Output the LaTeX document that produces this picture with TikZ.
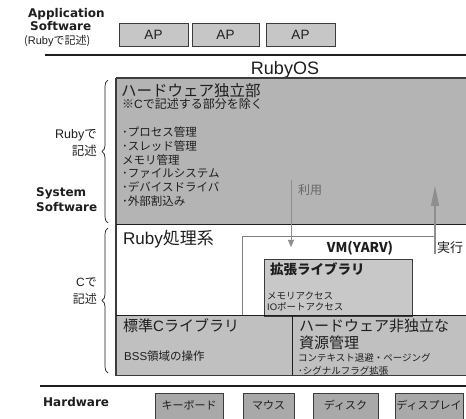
\documentclass[tikz,border=0pt]{standalone}
\usepackage{fontspec}
\setmainfont{Noto Sans CJK JP}
\newfontfamily\lib{Liberation Sans}
\newfontfamily\dvs{DejaVu Sans}
\usetikzlibrary{decorations.pathreplacing,arrows.meta}
\definecolor{gUp}{HTML}{B4B4B4}
\definecolor{gLow}{HTML}{C0C0C0}
\definecolor{gAP}{HTML}{C6C6C6}
\definecolor{gExt}{HTML}{C8C8C8}
\definecolor{gHW}{HTML}{A9A9A9}
\definecolor{ink}{HTML}{1E1E1E}
\definecolor{edge}{HTML}{3C3C3C}
\definecolor{arr}{HTML}{8E8E8E}
\tikzset{
  txt/.style={inner sep=0pt, anchor=base west, text=ink},
  txtr/.style={inner sep=0pt, anchor=base east, text=ink},
  lbl/.style={inner sep=0pt, anchor=base west, text=ink, font=\dvs\bfseries\fontsize{12}{14}\selectfont},
  apbox/.style={draw=edge, line width=0.8pt, fill=gAP, minimum height=23pt, inner sep=0pt, font=\lib\fontsize{13.5}{15}\selectfont, text=ink},
  hwbox/.style={draw=edge, line width=0.8pt, fill=gHW, anchor=north west, inner sep=0pt},
  hwtxt/.style={inner sep=0pt, anchor=base, text=ink, font=\fontsize{11}{13}\selectfont},
  head/.style={txt, font=\fontsize{15}{17}\selectfont},
  small/.style={txt, font=\fontsize{9.5}{11}\selectfont},
  item/.style={txt, font=\fontsize{11.5}{13}\selectfont},
  bracestyle/.style={decorate, decoration={brace, amplitude=6pt}, draw=ink, line width=0.7pt},
}
\begin{document}
\begin{tikzpicture}[x=1pt, y=-1pt]
\useasboundingbox (0,0) rectangle (466,419);
\clip (0,0) rectangle (466,419);
\fill[white] (0,0) rectangle (466,419);

% application layer
\node[lbl] (appA) at (28,18) {Application};
\node[lbl] (appS) at (30,31) {Software};
\node[txt, font=\fontsize{11}{12}\selectfont] (appR) at (24,45) {({\lib Ruby}で記述)};
\node[apbox, minimum width=69pt] (ap1) at (153.5,34.5) {AP};
\node[apbox, minimum width=67pt] (ap2) at (225.5,34.5) {AP};
\node[apbox, minimum width=69pt] (ap3) at (300.5,34.5) {AP};
\coordinate (sepAL) at (45,55);
\coordinate (sepAR) at (466,55);
\draw[ink, line width=1.2pt] (sepAL) -- (sepAR);

\node[txt, anchor=base, font=\lib\fontsize{18}{20}\selectfont] (os) at (285,75) {RubyOS};

% regions
\fill[gUp] (116,78) rectangle (467,225);
\fill[white] (116,225) rectangle (467,316);
\fill[gLow] (116,316) rectangle (467,376);

% VM box
\coordinate (vmBL) at (242,316);
\coordinate (vmTL) at (242,236);
\coordinate (vmTR) at (435,236);
\draw[arr!90!black, line width=0.8pt] (vmBL) -- (vmTL) -- (vmTR);

% extension library box
\node[draw=edge, line width=0.9pt, fill=gExt, anchor=north west, minimum width=148pt, minimum height=57pt, inner sep=0pt] (ext) at (264,259) {};

% lines
\draw[edge, line width=1.4pt] (116,78) -- (467,78);
\draw[edge, line width=1.6pt] (116,78) -- (116,376);
\draw[ink, line width=1pt] (116,225) -- (467,225);
\draw[ink, line width=1pt] (116,316) -- (467,316);
\draw[ink, line width=1pt] (292,316) -- (292,376);
\draw[edge, line width=1pt] (116,376) -- (467,376);
\coordinate (sepHL) at (40,386);
\coordinate (sepHR) at (467,386);
\draw[ink, line width=1.2pt] (sepHL) -- (sepHR);

% upper texts
\node[head, font=\fontsize{15.5}{17}\selectfont] (hi) at (121,97) {ハードウェア独立部};
\node[txt, font=\fontsize{12}{14}\selectfont] (hinote) at (122,109) {※{\lib C}で記述する部分を除く};
\node[item] (i1) at (122,137) {･プロセス管理};
\node[item] (i2) at (122,151) {･スレッド管理};
\node[item] (i3) at (122,164.5) {メモリ管理};
\node[item] (i4) at (122,178) {･ファイルシステム};
\node[item] (i5) at (122,192) {･デバイスドライバ};
\node[item] (i6) at (122,206) {･外部割込み};

% arrows
\node[txt, text=black!60, font=\fontsize{12}{14}\selectfont] (use) at (298,195) {利用};
\coordinate (useS) at (291,180);
\coordinate (useE) at (291,247);
\draw[arr, line width=0.8pt, -{Triangle[length=7pt,width=6pt]}] (useS) -- (useE);
\coordinate (exS) at (435,254);
\coordinate (exE) at (435,186);
\draw[arr, line width=1.3pt, -{Triangle[length=20pt,width=8pt]}] (exS) -- (exE);
\node[txt, font=\fontsize{13}{15}\selectfont] (exec) at (437,253) {実行};

% middle texts
\node[head, font=\fontsize{17}{19}\selectfont] (rp) at (123,245) {{\lib Ruby}処理系};
\node[txt, anchor=base, font=\bfseries\fontsize{13.5}{15}\selectfont] (vm) at (360,253) {VM(YARV)};
\node[txt, font=\bfseries\fontsize{13.5}{15}\selectfont] (extT) at (270,275) {拡張ライブラリ};
\node[small] (m1) at (267,300) {メモリアクセス};
\node[small] (m2) at (267,311) {{\lib IO}ポートアクセス};

% lower texts
\node[head] (stdc) at (123,332) {標準{\lib C}ライブラリ};
\node[txt, font=\fontsize{11.5}{13}\selectfont] (bss) at (124,361) {{\lib BSS}領域の操作};
\node[head] (hd1) at (299,332) {ハードウェア非独立な};
\node[head] (hd2) at (299,348.5) {資源管理};
\node[small] (hd3) at (298,362) {コンテキスト退避・ページング};
\node[small] (hd4) at (298,375) {･シグナルフラグ拡張};

% left labels and braces
\node[txtr, font=\fontsize{12.5}{14}\selectfont] (rb1) at (97,139) {{\lib Ruby}で};
\node[txtr, font=\fontsize{12.5}{14}\selectfont] (rb2) at (97,156) {記述};
\node[lbl] (sys1) at (36,197) {System};
\node[lbl] (sys2) at (36,212) {Software};
\node[txtr, font=\fontsize{12}{14}\selectfont] (c1) at (97,287) {{\lib C}で};
\node[txtr, font=\fontsize{12}{14}\selectfont] (c2) at (97,304) {記述};
\coordinate (b1s) at (108,223);
\coordinate (b1e) at (108,80);
\coordinate (b2s) at (108,373);
\coordinate (b2e) at (108,228);
\draw[bracestyle] (b1s) -- (b1e);
\draw[bracestyle] (b2s) -- (b2e);

% hardware
\node[lbl] (hw) at (43,407) {Hardware};
\node[hwbox, minimum width=68pt, minimum height=40pt] (k) at (155,393) {};
\node[hwbox, minimum width=51pt, minimum height=40pt] (mo) at (243,393) {};
\node[hwbox, minimum width=65pt, minimum height=40pt] (di) at (313,393) {};
\node[hwbox, minimum width=68pt, minimum height=40pt] (dp) at (395,393) {};
\node[hwtxt] (kt) at (189,410) {キーボード};
\node[hwtxt] (mot) at (268.5,410) {マウス};
\node[hwtxt] (dit) at (345.5,410) {ディスク};
\node[hwtxt] (dpt) at (429,410) {ディスプレイ};
\end{tikzpicture}
\end{document}
